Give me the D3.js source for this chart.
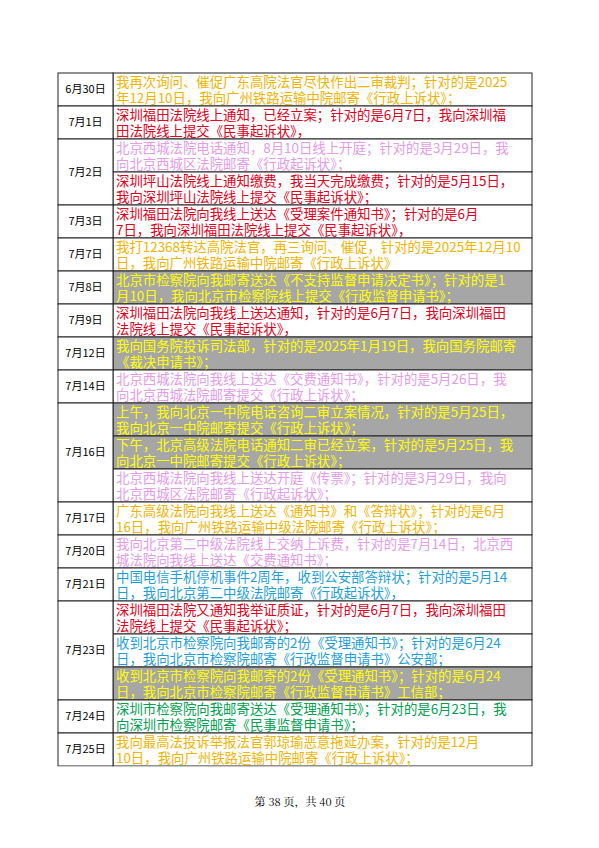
<!DOCTYPE html>
<html><head><meta charset="utf-8">
<script src="https://cdn.jsdelivr.net/npm/d3@7"></script>
<style>body{margin:0;background:#fff}</style>
</head><body>
<svg id="page" width="599" height="848"></svg>
<script>
// dates and number of entries per date
var dates = ["6月30日","7月1日","7月2日","7月3日","7月7日","7月8日","7月9日","7月12日","7月14日","7月16日","7月17日","7月20日","7月21日","7月23日","7月24日","7月25日"];
var entryCounts = [1,1,2,1,1,1,1,1,1,3,1,1,1,3,1,1];
// entry styles: o=orange, r=red, p=pink, g=gray bg yellow text, b=blue, n=green
var entryStyles = ["o","r","p","r","r","o","g","r","g","p","g","g","p","o","p","b","r","b","g","n","o"];
var entryLines = [
  ["我再次询问、催促广东高院法官尽快作出二审裁判；针对的是2025","年12月10日，我向广州铁路运输中院邮寄《行政上诉状》；"],
  ["深圳福田法院线上通知，已经立案；针对的是6月7日，我向深圳福","田法院线上提交《民事起诉状》，"],
  ["北京西城法院电话通知，8月10日线上开庭；针对的是3月29日，我","向北京西城区法院邮寄《行政起诉状》；"],
  ["深圳坪山法院线上通知缴费，我当天完成缴费；针对的是5月15日，","我向深圳坪山法院线上提交《民事起诉状》；"],
  ["深圳福田法院向我线上送达《受理案件通知书》；针对的是6月","7日，我向深圳福田法院线上提交《民事起诉状》，"],
  ["我打12368转达高院法官，再三询问、催促，针对的是2025年12月10","日，我向广州铁路运输中院邮寄《行政上诉状》"],
  ["北京市检察院向我邮寄送达《不支持监督申请决定书》；针对的是1","月10日，我向北京市检察院线上提交《行政监督申请书》；"],
  ["深圳福田法院向我线上送达通知，针对的是6月7日，我向深圳福田","法院线上提交《民事起诉状》，"],
  ["我向国务院投诉司法部，针对的是2025年1月19日，我向国务院邮寄","《裁决申请书》；"],
  ["北京西城法院向我线上送达《交费通知书》，针对的是5月26日，我","向北京西城法院邮寄提交《行政上诉状》；"],
  ["上午，我向北京一中院电话咨询二审立案情况，针对的是5月25日，","我向北京一中院邮寄提交《行政上诉状》；"],
  ["下午，北京高级法院电话通知二审已经立案，针对的是5月25日，我","向北京一中院邮寄提交《行政上诉状》；"],
  ["北京西城法院向我线上送达开庭《传票》；针对的是3月29日，我向","北京西城区法院邮寄《行政起诉状》；"],
  ["广东高级法院向我线上送达《通知书》和《答辩状》；针对的是6月","16日，我向广州铁路运输中级法院邮寄《行政上诉状》；"],
  ["我向北京第二中级法院线上交纳上诉费，针对的是7月14日，北京西","城法院向我线上送达《交费通知书》；"],
  ["中国电信手机停机事件2周年，收到公安部答辩状；针对的是5月14","日，我向北京第二中级法院邮寄《行政起诉状》，"],
  ["深圳福田法院又通知我举证质证，针对的是6月7日，我向深圳福田","法院线上提交《民事起诉状》；"],
  ["收到北京市检察院向我邮寄的2份《受理通知书》；针对的是6月24","日，我向北京市检察院邮寄《行政监督申请书》公安部；"],
  ["收到北京市检察院向我邮寄的2份《受理通知书》；针对的是6月24","日，我向北京市检察院邮寄《行政监督申请书》工信部；"],
  ["深圳市检察院向我邮寄送达《受理通知书》；针对的是6月23日，我","向深圳市检察院邮寄《民事监督申请书》；"],
  ["我向最高法投诉举报法官郭琼瑜恶意拖延办案，针对的是12月","10日，我向广州铁路运输中院邮寄《行政上诉状》；"]
];
var footerText = "第 38 页，共 40 页";

var styleFill = {o:"#fff", r:"#fff", p:"#fff", g:"#a6a6a6", b:"#fff", n:"#fff"};
var styleText = {o:"#f0b400", r:"#e0001b", p:"#e49be8", g:"#ffff00", b:"#1f9fd6", n:"#00a050"};

var svg = d3.select("#page");
var tblLeft = 58, dateRight = 113, tblRight = 532, tblTop = 73, tblBottom = 766;

var y = d3.scaleLinear().domain([0, entryStyles.length]).range([tblTop, tblBottom]);
var font = "'Noto Sans CJK SC', sans-serif";

svg.append("clipPath").attr("id", "tbl").append("rect")
    .attr("x", 0).attr("y", 0).attr("width", 599).attr("height", tblBottom + 0.5);
var g = svg.append("g").attr("clip-path", "url(#tbl)");

// entries
var entries = g.selectAll("g.entry").data(entryStyles).enter().append("g").attr("class", "entry");
entries.append("rect")
    .attr("x", dateRight).attr("width", tblRight - dateRight)
    .attr("y", function (d, i) { return y(i); })
    .attr("height", function (d, i) { return y(i + 1) - y(i); })
    .attr("fill", function (d) { return styleFill[d]; })
    .attr("stroke", "#222").attr("stroke-width", 1);
entries.each(function (d, i) {
    var sel = d3.select(this);
    entryLines[i].forEach(function (t, k) {
        sel.append("text")
            .attr("x", dateRight + 3)
            .attr("y", y(i) + 14 + k * 16)
            .attr("fill", styleText[d])
            .style("font", "13.4px " + font)
            .text(t);
    });
});

// date cells
var starts = [];
entryCounts.reduce(function (a, c) { starts.push(a); return a + c; }, 0);
var dcells = g.selectAll("g.date").data(dates).enter().append("g").attr("class", "date");
dcells.append("rect")
    .attr("x", tblLeft).attr("width", dateRight - tblLeft)
    .attr("y", function (d, i) { return y(starts[i]); })
    .attr("height", function (d, i) { return y(starts[i] + entryCounts[i]) - y(starts[i]); })
    .attr("fill", "#fff").attr("stroke", "#222").attr("stroke-width", 1);
dcells.append("text")
    .attr("x", (tblLeft + dateRight) / 2)
    .attr("y", function (d, i) { return (y(starts[i]) + y(starts[i] + entryCounts[i])) / 2; })
    .attr("dy", "0.35em")
    .attr("text-anchor", "middle")
    .attr("fill", "#000")
    .style("font", "11px " + font)
    .text(function (d) { return d; });

svg.append("text")
    .attr("x", 300).attr("y", 806)
    .attr("text-anchor", "middle")
    .style("font", "11px 'Noto Serif CJK SC', 'Noto Sans CJK SC', serif")
    .text(footerText);
</script>
</body></html>
